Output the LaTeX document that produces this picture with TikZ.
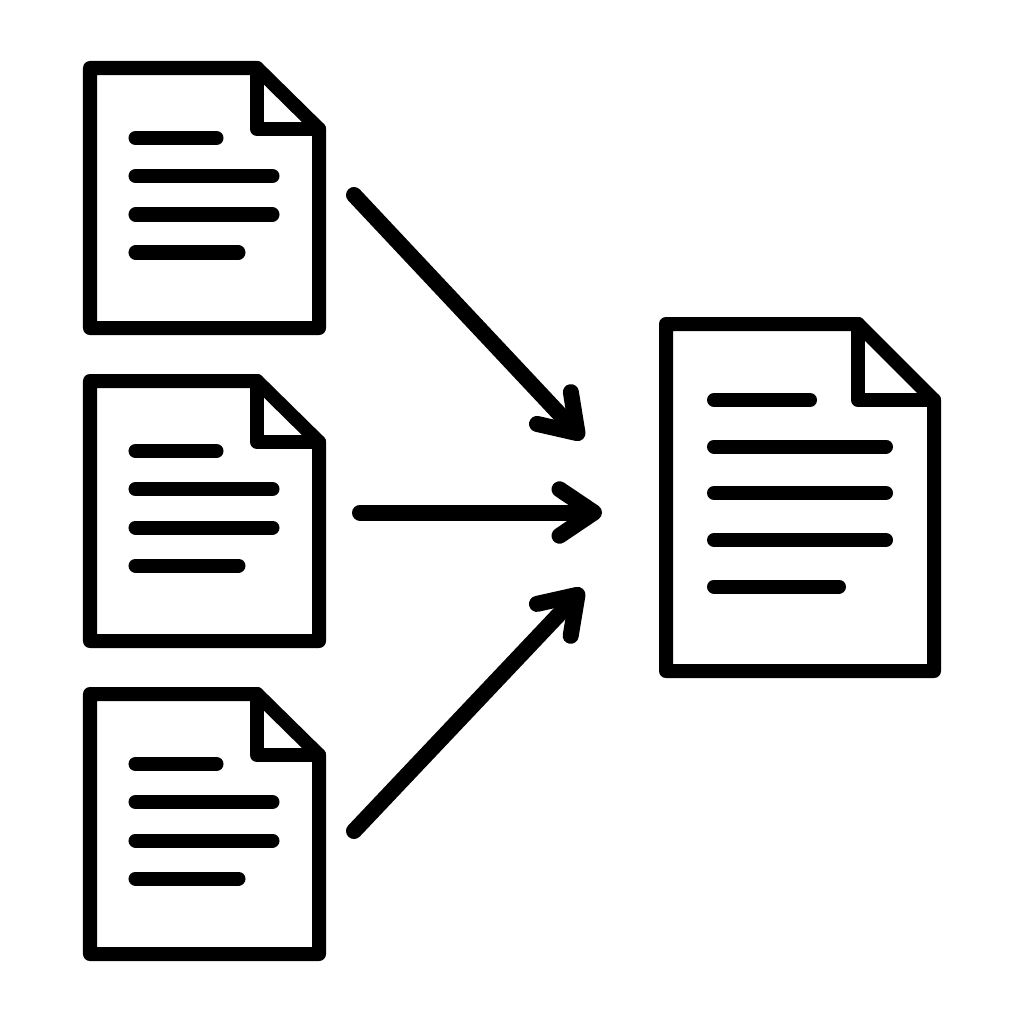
\documentclass[tikz,border=0pt]{standalone}
\usetikzlibrary{arrows.meta}
\tikzset{
  sheet_style/.style={draw=black,line width=14pt*0.2845,line join=round,line cap=round},
  text_style/.style={draw=black,line width=14pt*0.2845,line cap=round},
  arrow_style/.style={draw=black,line width=16pt*0.2845,line cap=round,line join=round,
    -{Straight Barb[round,length=9.8pt,width=13.2pt]}},
  small_doc/.pic={
    \draw[sheet_style] (90,68) -- (257,68) -- (319,129) -- (319,328) -- (90,328) -- cycle;
    \draw[sheet_style] (257,68) -- (257,129) -- (319,129);
    \draw[text_style] (135.5,138) -- (216.5,138);
    \draw[text_style] (135.5,176) -- (272.5,176);
    \draw[text_style] (135.5,214.5) -- (272.5,214.5);
    \draw[text_style] (135.5,252.5) -- (238.5,252.5);
  },
  large_doc/.pic={
    \draw[sheet_style] (666,324) -- (858,324) -- (934,400) -- (934,671) -- (666,671) -- cycle;
    \draw[sheet_style] (858,324) -- (858,400) -- (934,400);
    \draw[text_style] (714,400) -- (810,400);
    \draw[text_style] (714,446.5) -- (886,446.5);
    \draw[text_style] (714,493) -- (886,493);
    \draw[text_style] (714,540) -- (886,540);
    \draw[text_style] (714,586.5) -- (839,586.5);
  }
}
\begin{document}
\begin{tikzpicture}[x=0.01cm,y=-0.01cm]
  \useasboundingbox (0,0) rectangle (1024,1024);
  \pic (doc_a) at (0,0) {small_doc};
  \pic (doc_b) at (0,313) {small_doc};
  \pic (doc_c) at (0,626) {small_doc};
  \pic (doc_out) at (0,0) {large_doc};
  \coordinate (a_start) at (354,195);
  \coordinate (a_end) at (583,439);
  \coordinate (b_start) at (360,512.5);
  \coordinate (b_end) at (602,512.5);
  \coordinate (c_start) at (354,831);
  \coordinate (c_end) at (583,589);
  \draw[arrow_style] (a_start) -- (a_end);
  \draw[arrow_style] (b_start) -- (b_end);
  \draw[arrow_style] (c_start) -- (c_end);
\end{tikzpicture}
\end{document}
